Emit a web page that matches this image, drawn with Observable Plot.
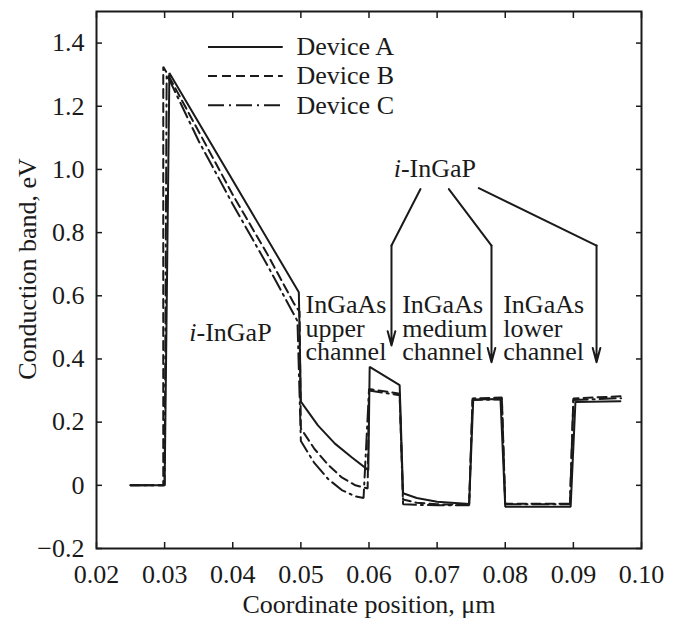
<!DOCTYPE html>
<html><head><meta charset="utf-8">
<script src="https://cdn.jsdelivr.net/npm/d3@7"></script>
<script src="https://cdn.jsdelivr.net/npm/@observablehq/plot@0.6"></script>
<style>
html,body{margin:0;padding:0;background:#fff;}
</style></head><body><div id="chart"></div>
<script>
// ---- data ----
const deviceNames = ["Device A", "Device B", "Device C"];

const deviceA_x = [0.025, 0.030, 0.0307, 0.0497, 0.0500, 0.0525, 0.0550, 0.0575, 0.0599, 0.0601, 0.0645, 0.0650, 0.0670, 0.0700, 0.0747, 0.0753, 0.0793, 0.0800, 0.0896, 0.0903, 0.0969];
const deviceA_y = [0, 0, 1.305, 0.611, 0.265, 0.190, 0.132, 0.088, 0.048, 0.375, 0.317, -0.025, -0.040, -0.052, -0.059, 0.272, 0.273, -0.068, -0.068, 0.264, 0.266];

const deviceB_x = [0.025, 0.0298, 0.0298, 0.031, 0.035, 0.040, 0.045, 0.0490, 0.0498, 0.0500, 0.0520, 0.0540, 0.0560, 0.0580, 0.0598, 0.0600, 0.0645, 0.0650, 0.0670, 0.0700, 0.0747, 0.0752, 0.0795, 0.0800, 0.0895, 0.0900, 0.0970];
const deviceB_y = [0, 0, 1.325, 1.280, 1.120, 0.920, 0.735, 0.575, 0.550, 0.180, 0.115, 0.065, 0.025, 0.000, -0.010, 0.305, 0.290, -0.045, -0.055, -0.060, -0.062, 0.275, 0.278, -0.058, -0.058, 0.275, 0.282];

const deviceC_x = [0.025, 0.030, 0.0303, 0.031, 0.035, 0.040, 0.045, 0.0495, 0.0500, 0.0520, 0.0540, 0.0560, 0.0580, 0.0592, 0.0600, 0.0645, 0.0650, 0.0670, 0.0700, 0.0747, 0.0752, 0.0795, 0.0800, 0.0895, 0.0900, 0.0970];
const deviceC_y = [0, 0, 1.300, 1.270, 1.090, 0.890, 0.700, 0.520, 0.140, 0.070, 0.020, -0.015, -0.035, -0.040, 0.300, 0.285, -0.060, -0.062, -0.063, -0.063, 0.270, 0.272, -0.060, -0.060, 0.270, 0.276];

const xTicks = [0.02, 0.03, 0.04, 0.05, 0.06, 0.07, 0.08, 0.09, 0.10];
const xTickLabels = ["0.02", "0.03", "0.04", "0.05", "0.06", "0.07", "0.08", "0.09", "0.10"];
const yTicks = [-0.2, 0, 0.2, 0.4, 0.6, 0.8, 1.0, 1.2, 1.4];
const yTickLabels = ["\u22120.2", "0", "0.2", "0.4", "0.6", "0.8", "1.0", "1.2", "1.4"];

const xAxisTitle = "Coordinate position, \u03bcm";
const yAxisTitle = "Conduction band, eV";

// annotation texts (data coordinates)
const layerLabels = [
  {x: 0.03468, y: 0.456},   // i-InGaP barrier
  {x: 0.06468, y: 0.975}    // i-InGaP spacers
];
const channelLabels = [
  {x: 0.05068, y: 0.396, text: "InGaAs\nupper\nchannel"},
  {x: 0.06487, y: 0.396, text: "InGaAs\nmedium\nchannel"},
  {x: 0.07970, y: 0.396, text: "InGaAs\nlower\nchannel"}
];
const arrowPaths = [
  [[0.06756, 0.938], [0.0633, 0.759], [0.0633, 0.443]],
  [[0.07172, 0.938], [0.07798, 0.759], [0.07798, 0.390]],
  [[0.07612, 0.941], [0.0934, 0.759], [0.0934, 0.390]]
];
const legendRowsY = [1.388, 1.296, 1.203];
const legendX = [0.03644, 0.04741, 0.04936];

// ---- styles ----
const ink = "#1a1a1a";
const FONT = "'Liberation Serif', 'Times New Roman', serif";
const FS = 26;
const dashes = [null, "9,5", "16,5,2,5"];

const seriesX = [deviceA_x, deviceB_x, deviceC_x];
const seriesY = [deviceA_y, deviceB_y, deviceC_y];

const marks = [];

seriesX.forEach((xs, k) => {
  const rows = xs.map((x, i) => ({x, y: seriesY[k][i], device: deviceNames[k]}));
  marks.push(Plot.line(rows, {x: "x", y: "y", stroke: ink, strokeWidth: 2, strokeDasharray: dashes[k], strokeLinejoin: "miter"}));
});

// legend
deviceNames.forEach((name, k) => {
  marks.push(Plot.ruleY([legendRowsY[k]], {x1: legendX[0], x2: legendX[1], stroke: ink, strokeWidth: 2, strokeDasharray: dashes[k]}));
  marks.push(Plot.text([name], {x: legendX[2], y: legendRowsY[k], text: d => d, textAnchor: "start", lineAnchor: "middle", fontSize: FS, fontFamily: FONT, fill: ink}));
});

// arrows
arrowPaths.forEach(p => {
  marks.push(Plot.line(p.slice(0, 2), {x: d => d[0], y: d => d[1], stroke: ink, strokeWidth: 2}));
  marks.push(Plot.arrow([p.slice(1)], {x1: d => d[0][0], y1: d => d[0][1], x2: d => d[1][0], y2: d => d[1][1], stroke: ink, strokeWidth: 2, headLength: 11, headAngle: 30}));
});

// layer labels: italic "i" + "-InGaP"
marks.push(Plot.text(layerLabels, {x: "x", y: "y", text: () => "i", textAnchor: "end", lineAnchor: "bottom", fontStyle: "italic", fontSize: FS, fontFamily: FONT, fill: ink}));
marks.push(Plot.text(layerLabels, {x: "x", y: "y", text: () => "-InGaP", textAnchor: "start", lineAnchor: "bottom", fontSize: FS, fontFamily: FONT, fill: ink}));
marks.push(Plot.text(channelLabels, {x: "x", y: "y", text: "text", textAnchor: "start", lineAnchor: "bottom", lineHeight: 0.9, fontSize: FS, fontFamily: FONT, fill: ink}));

// axes (inward ticks on all sides)
const fmtX = d => xTickLabels[xTicks.indexOf(d)];
const fmtY = d => yTickLabels[yTicks.indexOf(d)];
marks.push(Plot.axisX(xTicks, {anchor: "bottom", tickSize: -6, tickPadding: 22, tickFormat: fmtX, label: null, fontSize: FS, fontFamily: FONT, fill: ink, stroke: ink, strokeWidth: 1.5}));
marks.push(Plot.axisX(xTicks, {anchor: "top", tickSize: -6, tickFormat: () => "", label: null, stroke: ink, strokeWidth: 1.5}));
marks.push(Plot.axisY(yTicks, {anchor: "left", tickSize: -6, tickPadding: 18, tickFormat: fmtY, label: null, fontSize: FS, fontFamily: FONT, fill: ink, stroke: ink, strokeWidth: 1.5}));
marks.push(Plot.axisY(yTicks, {anchor: "right", tickSize: -6, tickFormat: () => "", label: null, stroke: ink, strokeWidth: 1.5}));
marks.push(Plot.frame({stroke: ink, strokeWidth: 2}));

// axis titles
marks.push(Plot.text([xAxisTitle], {frameAnchor: "bottom", text: d => d, dy: 64, textAnchor: "middle", lineAnchor: "bottom", fontSize: FS, fontFamily: FONT, fill: ink}));
marks.push(Plot.text([yAxisTitle], {frameAnchor: "left", text: d => d, rotate: -90, dx: -69, dy: -11, textAnchor: "middle", lineAnchor: "middle", fontSize: FS, fontFamily: FONT, fill: ink}));

const chart = Plot.plot({
  width: 677,
  height: 618,
  marginLeft: 96,
  marginRight: 36,
  marginTop: 11,
  marginBottom: 70,
  x: {domain: [0.02, 0.10]},
  y: {domain: [-0.2, 1.5]},
  style: {fontFamily: FONT, fontSize: FS + "px", background: "#fff", color: ink},
  marks
});
document.getElementById("chart").append(chart);
</script>
</body></html>
